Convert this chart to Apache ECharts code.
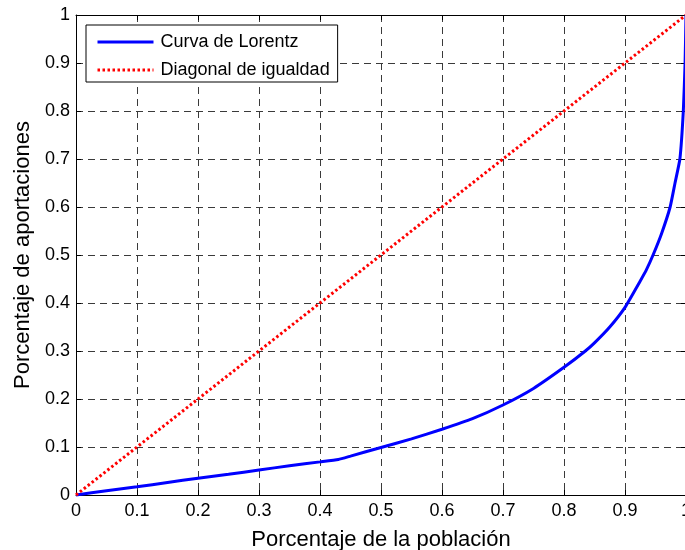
<!DOCTYPE html>
<html>
<head>
<meta charset="utf-8">
<script src="https://cdn.jsdelivr.net/npm/echarts@6/dist/echarts.min.js"></script>
<style>html,body{margin:0;padding:0;background:#fff}#c{width:685px;height:550px}</style>
</head>
<body>
<div id="c"></div>
<script>
const popX = [0,0.05,0.1,0.15,0.2,0.25,0.3,0.35,0.4,0.43,0.45,0.5,0.55,0.6,0.65,0.7,0.75,0.8,0.835,0.85,0.875,0.9,0.925,0.935,0.946,0.96,0.974,0.982,0.99,0.9956,0.9985,1];
const lorenzY = [0,0.009,0.017,0.026,0.035,0.043,0.052,0.061,0.069,0.074,0.081,0.099,0.117,0.137,0.159,0.1875,0.222,0.266,0.3,0.317,0.35,0.391,0.446,0.469,0.5,0.545,0.6,0.65,0.7,0.8,0.9,1];
const diagX = [0,1];
const diagY = [0,1];
const seriesNames = ['Curva de Lorentz','Diagonal de igualdad'];
const xTitle = 'Porcentaje de la población';
const yTitle = 'Porcentaje de aportaciones';

const font = 'Liberation Sans, Arial, Helvetica, sans-serif';
const chart = echarts.init(document.getElementById('c'));
const gridLine = {show:true, lineStyle:{color:'#3a3a3a', type:[7,5], width:1}};
const fmt = v => (Math.round(v*10)/10).toString();
chart.setOption({
  animation:false,
  grid:{left:76, right:-1, top:15, bottom:55, containLabel:false, outerBoundsMode:'none'},
  legend:{
    orient:'vertical', left:86, top:25,
    backgroundColor:'#fff', borderColor:'#000', borderWidth:1, borderRadius:0,
    padding:[8,8,3,10], itemGap:10, itemWidth:56, itemHeight:14,
    itemStyle:{opacity:0},
    lineStyle:{width:3},
    textStyle:{fontFamily:font, fontSize:18, color:'#000', padding:[0,0,0,2]},
    data:seriesNames
  },
  xAxis:[{
    type:'value', min:0, max:1, interval:0.1, position:'bottom',
    name:xTitle, nameLocation:'middle', nameGap:34,
    nameTextStyle:{fontFamily:font, fontSize:22, color:'#000'},
    axisLine:{show:true, onZero:false, lineStyle:{color:'#000', width:1}},
    axisTick:{show:true, inside:true, length:5, lineStyle:{color:'#000'}},
    axisLabel:{fontFamily:font, fontSize:18, color:'#000', margin:7, formatter:fmt, showMaxLabel:true},
    splitLine:gridLine
  },{
    type:'value', min:0, max:1, interval:0.1, position:'top',
    axisLine:{show:true, onZero:false, lineStyle:{color:'#000', width:1}},
    axisTick:{show:true, inside:true, length:5, lineStyle:{color:'#000'}},
    axisLabel:{show:false}, splitLine:{show:false}
  }],
  yAxis:[{
    type:'value', min:0, max:1, interval:0.1, position:'left',
    name:yTitle, nameLocation:'middle', nameGap:41, nameRotate:90,
    nameTextStyle:{fontFamily:font, fontSize:22, color:'#000'},
    axisLine:{show:true, onZero:false, lineStyle:{color:'#000', width:1}},
    axisTick:{show:true, inside:true, length:5, lineStyle:{color:'#000'}},
    axisLabel:{fontFamily:font, fontSize:18, color:'#000', margin:6, formatter:fmt},
    splitLine:gridLine
  },{
    type:'value', min:0, max:1, interval:0.1, position:'right',
    axisLine:{show:true, onZero:false, lineStyle:{color:'#000', width:1}},
    axisTick:{show:true, inside:true, length:5, lineStyle:{color:'#000'}},
    axisLabel:{show:false}, splitLine:{show:false}
  }],
  series:[{
    name:seriesNames[0], type:'line', xAxisIndex:0, yAxisIndex:0,
    data:popX.map((x,i)=>[x,lorenzY[i]]),
    showSymbol:false, symbol:'none', smooth:0.15, clip:false,
    lineStyle:{color:'#0000ff', width:3}, itemStyle:{color:'#0000ff'}, z:3
  },{
    name:seriesNames[1], type:'line', xAxisIndex:0, yAxisIndex:0,
    data:diagX.map((x,i)=>[x,diagY[i]]),
    showSymbol:false, symbol:'none', clip:false,
    lineStyle:{color:'#ff0000', width:3, type:[2.5,2.5]}, itemStyle:{color:'#ff0000'}, z:4
  }]
});
</script>
</body>
</html>
